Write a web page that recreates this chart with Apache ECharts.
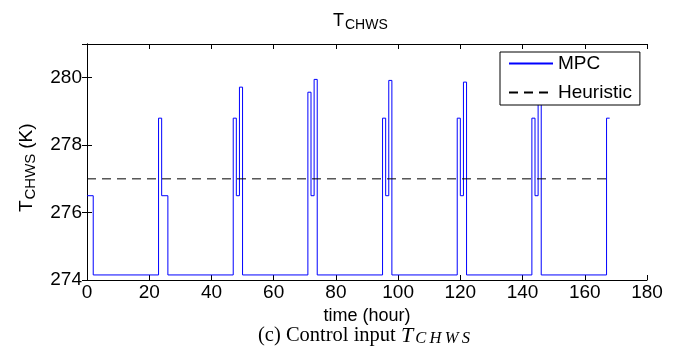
<!DOCTYPE html>
<html>
<head>
<meta charset="utf-8">
<script src="https://cdn.jsdelivr.net/npm/echarts@6/dist/echarts.min.js"></script>
<style>
  html, body { margin: 0; padding: 0; background: #fff; }
  #chart { width: 684px; height: 350px; }
</style>
</head>
<body>
<div id="chart"></div>
<script>
    // MPC set-point changes: value holds from each time until the next one
    var mpcTime = [0, 2, 23, 24, 26, 47, 48, 49, 50, 71, 72, 73, 74, 95, 96, 97, 98,
                   119, 120, 121, 122, 143, 144, 145, 146, 167, 168];
    var mpcValue = [276.5, 274.15, 278.8, 276.5, 274.15, 278.8, 276.5, 279.72, 274.15,
                    279.57, 276.5, 279.95, 274.15, 278.8, 276.5, 279.92, 274.15,
                    278.8, 276.5, 279.87, 274.15, 278.8, 276.5, 279.85, 274.15, 278.8, 278.8];
    var heurTime = [0, 168];
    var heurValue = [277, 277];
    var xTicks = [0, 20, 40, 60, 80, 100, 120, 140, 160, 180];
    var yTicks = [274, 276, 278, 280];

    var font = 'Liberation Sans, Arial, Helvetica, sans-serif';
    var serif = 'Liberation Serif, Times New Roman, serif';

    function pairs(xs, ys) {
        return xs.map(function (x, i) { return [x, ys[i]]; });
    }

    function txt(x, y, s, size) {
        return {
            type: 'text', x: x, y: y,
            style: { text: s, fontFamily: font, fontSize: size, fill: '#000', verticalAlign: 'middle' }
        };
    }

    var chart = echarts.init(document.getElementById('chart'));
    var axisLine = { show: true, lineStyle: { color: '#000', width: 1 } };
    var tick = { show: true, inside: true, length: 5, lineStyle: { color: '#000' } };
    var tickFont = { fontFamily: font, fontSize: 19, color: '#000' };

    chart.setOption({
        animation: false,
        backgroundColor: '#fff',
        legend: {
            orient: 'vertical',
            left: 500,
            top: 52,
            backgroundColor: '#fff',
            borderColor: '#000',
            borderWidth: 1,
            borderRadius: 0,
            padding: [2, 8, 3, 8],
            itemGap: 10,
            itemWidth: 44,
            itemHeight: 18,
            itemStyle: { opacity: 0 },
            textStyle: { fontFamily: font, fontSize: 19, color: '#000' },
            data: ['MPC', 'Heuristic']
        },
        grid: { left: 87, right: 37, top: 44, bottom: 70 },
        xAxis: [{
            type: 'value',
            min: xTicks[0],
            max: xTicks[xTicks.length - 1],
            interval: 20,
            name: 'time (hour)',
            nameLocation: 'middle',
            nameGap: 15,
            nameTextStyle: { fontFamily: font, fontSize: 18, color: '#000' },
            axisLine: axisLine,
            axisTick: tick,
            splitLine: { show: false },
            axisLabel: Object.assign({ margin: 3 }, tickFont)
        }, {
            type: 'value',
            position: 'top',
            min: xTicks[0],
            max: xTicks[xTicks.length - 1],
            interval: 20,
            axisLine: axisLine,
            axisTick: tick,
            splitLine: { show: false },
            axisLabel: { show: false }
        }],
        yAxis: [{
            type: 'value',
            min: 274,
            max: 281,
            interval: 2,
            axisLine: axisLine,
            axisTick: tick,
            splitLine: { show: false },
            axisLabel: Object.assign({
                margin: 5,
                formatter: function (v) { return yTicks.indexOf(v) >= 0 ? String(v) : ''; }
            }, tickFont)
        }, {
            type: 'value',
            position: 'right',
            min: 274,
            max: 281,
            interval: 2,
            axisLine: axisLine,
            axisTick: tick,
            splitLine: { show: false },
            axisLabel: { show: false }
        }],
        series: [{
            name: 'MPC',
            type: 'line',
            step: 'end',
            symbol: 'none',
            lineStyle: { color: '#0000ff', width: 1 },
            itemStyle: { color: '#0000ff' },
            data: pairs(mpcTime, mpcValue)
        }, {
            name: 'Heuristic',
            type: 'line',
            symbol: 'none',
            lineStyle: { color: '#000', width: 1, type: [9, 6] },
            itemStyle: { color: '#000' },
            data: pairs(heurTime, heurValue)
        }],
        graphic: [
            // title T_CHWS
            txt(333, 21, 'T', 18),
            txt(345, 25, 'CHWS', 14),
            // y axis name, rotated to read upwards
            {
                type: 'group', x: 33, y: 212, rotation: Math.PI / 2,
                children: [
                    txt(0, -6.5, 'T', 19),
                    txt(12.5, -2.5, 'CHWS', 15),
                    txt(58, -6.5, ' (K)', 19)
                ]
            },
            {
                type: 'text',
                left: 258,
                top: 322,
                style: {
                    text: '{r|(c) Control input }{i|T}{j|C\u2009H\u2009W\u2009S}',
                    rich: {
                        r: { fontFamily: serif, fontSize: 20.5, fill: '#000', lineHeight: 22, verticalAlign: 'top' },
                        i: { fontFamily: serif, fontStyle: 'italic', fontSize: 22, fill: '#000', lineHeight: 22, verticalAlign: 'top' },
                        j: { fontFamily: serif, fontStyle: 'italic', fontSize: 16.5, fill: '#000', lineHeight: 16, padding: [8, 0, 0, 2], verticalAlign: 'bottom' }
                    }
                }
            }
        ]
    });
</script>
</body>
</html>
